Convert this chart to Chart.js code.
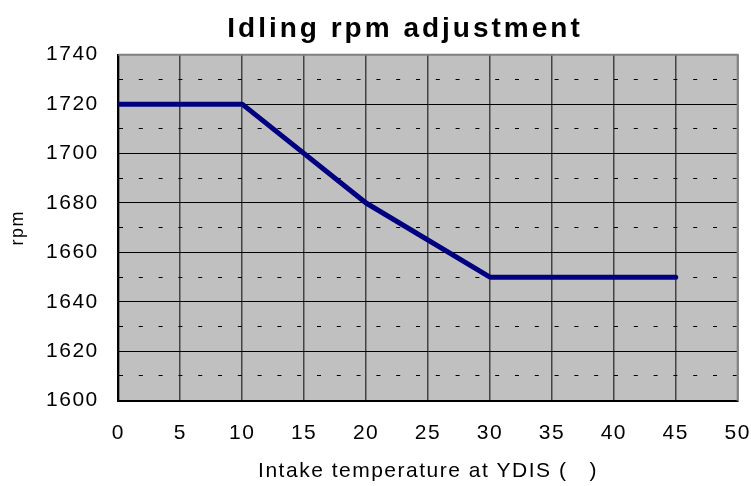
<!DOCTYPE html>
<html>
<head>
<meta charset="utf-8">
<script src="https://cdn.jsdelivr.net/npm/chart.js@4/dist/chart.umd.min.js"></script>
<style>
  html, body { margin: 0; padding: 0; background: #ffffff; }
  #c { display: block; }
</style>
</head>
<body>
<canvas id="c" width="751" height="486"></canvas>
<script>
// ---- data ----
const TITLE = 'Idling rpm adjustment';
const X_TITLE = 'Intake temperature at YDIS (   )';
const Y_TITLE = 'rpm';
const temperatures = [0, 10, 20, 30, 45];
const rpmValues = [1720, 1720, 1680, 1650, 1650];
const xTicks = [0, 5, 10, 15, 20, 25, 30, 35, 40, 45, 50];
const yTicks = [1600, 1620, 1640, 1660, 1680, 1700, 1720, 1740];

const FONT = "'Liberation Sans', Arial, sans-serif";

const points = temperatures.map((t, i) => ({ x: t, y: rpmValues[i] }));

const plotDecor = {
  id: 'plotDecor',
  beforeUpdate(chart) { chart.ctx.letterSpacing = '1.5px'; },
  beforeDraw(chart) {
    const { ctx, chartArea: a } = chart;
    ctx.letterSpacing = '1.5px';
    ctx.save();
    ctx.fillStyle = '#ffffff';
    ctx.fillRect(0, 0, chart.width, chart.height);
    ctx.fillStyle = '#c0c0c0';
    ctx.fillRect(a.left, a.top, a.right - a.left, a.bottom - a.top);
    ctx.restore();
  },
  beforeDatasetsDraw(chart) {
    const { ctx, chartArea: a } = chart;
    ctx.save();
    ctx.strokeStyle = '#808080';
    ctx.lineWidth = 2;
    ctx.beginPath();
    ctx.moveTo(a.left, a.top);
    ctx.lineTo(a.right, a.top);
    ctx.lineTo(a.right, a.bottom);
    ctx.stroke();
    ctx.restore();
  },
  afterDraw(chart) {
    const { ctx } = chart;
    ctx.save();
    ctx.letterSpacing = '3px';
    ctx.font = "bold 28px " + FONT;
    ctx.fillStyle = '#000000';
    ctx.textAlign = 'center';
    ctx.textBaseline = 'alphabetic';
    ctx.fillText(TITLE, 405, 36.5);
    ctx.restore();
  }
};

new Chart(document.getElementById('c'), {
  type: 'line',
  data: {
    datasets: [{
      data: points,
      borderColor: '#000080',
      borderWidth: 5,
      pointRadius: 0,
      pointHoverRadius: 0,
      tension: 0,
      borderCapStyle: 'round',
      borderJoinStyle: 'round',
      fill: false
    }]
  },
  options: {
    responsive: false,
    animation: false,
    devicePixelRatio: 1,
    events: [],
    layout: { padding: { top: 54.7, right: 13.3, left: 0, bottom: 0 } },
    plugins: {
      legend: { display: false },
      tooltip: { enabled: false },
      title: { display: false, text: TITLE }
    },
    scales: {
      x: {
        type: 'linear',
        min: xTicks[0],
        max: xTicks[xTicks.length - 1],
        afterBuildTicks(scale) { scale.ticks = xTicks.map(v => ({ value: v })); },
        afterFit(scale) {
          scale.height = 85.3;
          scale.paddingLeft = 0;
          scale.paddingRight = 0;
        },
        ticks: {
          color: '#000000',
          font: { family: FONT, size: 21 },
          padding: 20,
          maxRotation: 0,
          autoSkip: false
        },
        grid: {
          drawTicks: false,
          color: '#444444',
          lineWidth: 1.5
        },
        border: { display: true, color: '#000000', width: 2 },
        title: {
          display: true,
          text: X_TITLE,
          color: '#000000',
          font: { family: FONT, size: 21 },
          padding: { top: 0, bottom: 2 }
        }
      },
      y: {
        type: 'linear',
        min: yTicks[0],
        max: yTicks[yTicks.length - 1],
        afterBuildTicks(scale) {
          const t = [];
          for (let i = 0; i < yTicks.length; i++) {
            t.push({ value: yTicks[i] });
            if (i < yTicks.length - 1) t.push({ value: (yTicks[i] + yTicks[i + 1]) / 2 });
          }
          scale.ticks = t;
        },
        afterFit(scale) {
          scale.width = 118.3;
          scale.paddingTop = 0;
          scale.paddingBottom = 0;
        },
        ticks: {
          color: '#000000',
          font: { family: FONT, size: 21 },
          padding: 19.5,
          autoSkip: false,
          callback: (v) => (yTicks.includes(v) ? String(v) : '')
        },
        grid: {
          drawTicks: false,
          color: '#000000',
          lineWidth: 1
        },
        border: {
          display: true,
          color: '#000000',
          width: 2,
          dash: (ctx) => (ctx.tick && !yTicks.includes(ctx.tick.value) ? [4, 15.8] : [])
        },
        title: {
          display: true,
          text: Y_TITLE,
          color: '#000000',
          font: { family: FONT, size: 18 },
          padding: { top: 7, bottom: 0 }
        }
      }
    }
  },
  plugins: [plotDecor]
});
</script>
</body>
</html>
